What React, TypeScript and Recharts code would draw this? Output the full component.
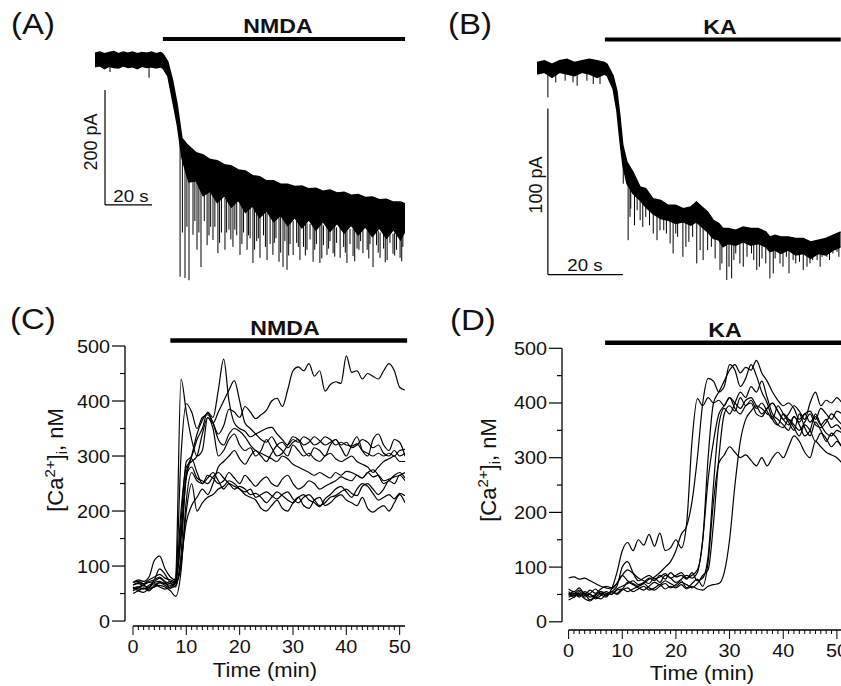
import React from "react";
import { ComposedChart, LineChart, Line, Area, XAxis, YAxis, ReferenceLine } from "recharts";

const FONT = "'Liberation Sans', Arial, Helvetica, sans-serif";
const INK = "#000";

// ---- (A) NMDA-evoked current: time (s), upper / lower edge of the noisy trace (pA)
const aTime = [0, 2, 4, 6, 8, 10, 12, 14, 16, 18, 20, 22, 24, 26, 28, 29, 31, 33, 35, 37, 39, 40, 43, 46, 49, 52, 55, 58, 61, 64, 67, 70, 73, 76, 79, 82, 85, 88, 91, 94, 97, 100, 103, 106, 109, 112, 115, 118, 121, 124, 127, 130, 131.9];
const aHigh = [12, 14, 11, 13, 15, 11, 14, 12, 14, 11, 13, 12, 14, 11, 13, 10, -3, -35, -78, -136, -146, -150, -161, -165, -173, -175, -182, -184, -191, -193, -201, -203, -210, -210, -216, -216, -220, -219, -224, -223, -228, -226, -231, -230, -235, -234, -239, -238, -243, -242, -247, -247, -250];
const aLow = [-12, -10, -15, -11, -13, -14, -10, -13, -12, -15, -11, -13, -12, -14, -12, -15, -28, -70, -113, -170, -200, -212, -210, -236, -228, -248, -236, -256, -244, -265, -254, -274, -262, -281, -270, -288, -274, -292, -278, -296, -281, -298, -284, -301, -287, -304, -290, -307, -292, -310, -295, -313, -298];
// downward spikes: [time, from, to]
const aSpikes = [
  [6.4, -10, -21], [23, -10, -31], [36.2, -130, -377], [37.2, -150, -300], [38.3, -160, -379], [39.1, -170, -290],
  [40, -180, -383], [41.7, -200, -304], [42.5, -200, -280], [43.4, -210, -330], [44.2, -210, -300], [45.1, -220, -360],
  [46.5, -215, -280], [47.7, -225, -322], [48.5, -222, -305], [49.2, -230, -290], [50.2, -230, -313], [51, -228, -290],
  [52.3, -235, -336], [53, -232, -318], [53.8, -238, -300], [55.3, -240, -330], [56, -238, -300], [57, -242, -295],
  [57.8, -240, -312], [58.7, -245, -325], [59.5, -243, -295], [60.3, -248, -305], [61.7, -250, -339], [62.5, -250, -320],
  [63.2, -252, -300], [64.7, -255, -330], [65.3, -253, -305], [66, -256, -310], [67.2, -258, -353], [67.9, -256, -330],
  [68.8, -260, -315], [69.5, -258, -310], [70.2, -262, -344], [71.7, -264, -305], [72.5, -262, -325], [73.2, -265, -348],
  [74.5, -268, -320], [75.7, -270, -339], [76.3, -268, -318], [77, -272, -310], [78.3, -274, -351], [79, -271, -335],
  [80, -275, -360], [80.8, -273, -315], [81.7, -277, -365], [82.4, -275, -340], [83, -278, -320], [84.3, -280, -339],
  [85.8, -280, -318], [86.5, -279, -325], [87.2, -282, -348], [88.7, -283, -325], [89.5, -281, -340], [90.2, -284, -330],
  [91.5, -285, -312], [92.8, -285, -351], [93.5, -283, -330], [94.2, -286, -320], [95.7, -287, -353], [96.5, -285, -345],
  [97.2, -288, -322], [98.7, -288, -339], [99.4, -287, -328], [100, -289, -315], [101.3, -290, -336], [102, -288, -342],
  [102.8, -291, -318], [104.3, -291, -344], [105.8, -292, -325], [106.5, -290, -335], [107.2, -293, -353], [108.5, -294, -320],
  [109.8, -294, -341], [110.5, -292, -350], [111.5, -295, -328], [112.3, -293, -330], [113, -296, -315], [114, -296, -336],
  [115.8, -297, -330], [116.5, -295, -345], [117, -298, -320], [118.3, -299, -360], [119.8, -299, -322], [120.5, -297, -335],
  [121.3, -300, -344], [122.8, -300, -328], [123.5, -298, -352], [124.3, -301, -348], [125.5, -302, -318], [126.8, -302, -337],
  [127.5, -300, -340], [128.3, -303, -330], [129.8, -304, -344], [130.5, -301, -350], [131, -304, -325],
];
const aNmda = [28.9, 131.9]; // application period (s)

// ---- (B) KA-evoked current
const bTime = [0, 2, 4, 6, 8, 10, 12, 14, 16, 18, 18.7, 20.3, 21.3, 22.1, 22.9, 24, 25.6, 27.5, 29, 30.9, 33, 35, 37, 39, 41, 42.5, 44, 45.5, 47, 48.5, 49.6, 51, 53, 55, 57, 59, 61, 62.1, 63.5, 65, 67, 69, 71, 73, 75, 77, 79, 81];
const bHigh = [3, 4, 2, 4, 5, 3, 4, 5, 4, 3, 2, -5, -14, -29, -47, -57, -63, -72, -73, -79, -80, -83, -83, -85, -84, -81, -84, -87, -92, -94, -97, -97, -98, -96, -97, -97, -99, -102, -101, -102, -102, -103, -103, -105, -104, -103, -101, -99];
const bLow = [-4, -3, -6, -3, -4, -5, -3, -4, -6, -4, -5, -13, -26, -44, -59, -70, -76, -80, -84, -88, -91, -92, -94, -93, -95, -93, -96, -99, -103, -104, -108, -106, -107, -105, -107, -106, -108, -111, -110, -112, -110, -113, -112, -115, -112, -113, -110, -108];
const bSpikes = [
  [2.9, -2, -18], [5, -2, -9], [7.5, -2, -8], [9.6, -2, -9], [10.7, -2, -11], [13.3, -2, -8], [15, -2, -10], [16.8, -2, -10],
  [23, -55, -70], [24.3, -62, -104], [24.8, -64, -90], [25, -66, -85], [26, -68, -95], [26.7, -70, -86], [27.5, -72, -92],
  [28.2, -74, -96], [29, -75, -90], [30, -78, -95], [31, -82, -100], [32, -82, -104], [32.8, -84, -98], [33.8, -85, -98],
  [34.5, -86, -100], [35.5, -86, -106], [36.3, -88, -112], [37, -88, -100], [37.5, -89, -102], [38.9, -89, -114],
  [39.7, -89, -108], [40.5, -90, -105], [41.5, -88, -102], [42.6, -88, -118], [43.5, -90, -110], [44.3, -90, -116],
  [45.5, -93, -110], [46.5, -95, -108], [47.5, -98, -115], [48.8, -100, -122], [49.3, -102, -118], [50.6, -104, -128],
  [51.2, -103, -120], [51.9, -103, -127], [52.5, -102, -116], [53, -102, -112], [54.1, -102, -118], [55, -103, -120],
  [56, -102, -114], [57.2, -102, -112], [57.8, -104, -116], [58.6, -103, -122], [59.3, -105, -120], [60, -103, -115],
  [61, -106, -118], [62.1, -107, -127], [63, -109, -124], [63.5, -107, -115], [64.8, -107, -118], [65.6, -109, -120],
  [66.5, -107, -114], [67.2, -110, -124], [68.3, -108, -116], [69, -110, -118], [70, -109, -117], [71, -111, -122],
  [72, -110, -120], [72.8, -111, -118], [73.5, -110, -116], [74.7, -109, -116], [75.5, -110, -120], [76, -108, -114],
  [77.3, -107, -114], [78, -108, -116], [78.9, -106, -112], [80, -105, -111], [80.5, -106, -114],
];
const bKa = [18.1, 81];

// ---- (C) [Ca2+]i during NMDA, nM, one sample per minute
const cTime = [0, 1, 2, 3, 4, 5, 6, 7, 8, 9, 10, 11, 12, 13, 14, 15, 16, 17, 18, 19, 20, 21, 22, 23, 24, 25, 26, 27, 28, 29, 30, 31, 32, 33, 34, 35, 36, 37, 38, 39, 40, 41, 42, 43, 44, 45, 46, 47, 48, 49, 50, 51];
const cCells = [
  [65, 70, 68, 72, 75, 80, 72, 68, 75, 300, 395, 380, 350, 370, 375, 360, 340, 355, 385, 380, 370, 390, 380, 368, 375, 383, 400, 405, 390, 420, 455, 462, 455, 468, 445, 455, 418, 430, 435, 432, 482, 452, 455, 440, 450, 445, 440, 455, 468, 455, 425, 420],
  [60, 62, 58, 65, 70, 72, 68, 72, 70, 180, 290, 300, 330, 350, 380, 370, 420, 476, 400, 360, 350, 345, 335, 340, 345, 350, 352, 340, 330, 320, 330, 325, 335, 330, 320, 325, 335, 330, 320, 325, 320, 318, 322, 310, 305, 300, 305, 300, 305, 300, 310, 312],
  [55, 60, 65, 60, 62, 70, 65, 60, 80, 440, 380, 330, 300, 310, 370, 350, 300, 310, 330, 340, 320, 310, 315, 300, 310, 330, 315, 300, 305, 320, 335, 330, 310, 300, 315, 310, 300, 320, 330, 315, 300, 320, 335, 310, 300, 330, 340, 320, 310, 330, 325, 300],
  [70, 72, 68, 75, 80, 85, 78, 75, 72, 200, 280, 290, 300, 340, 370, 360, 380, 400, 420, 437, 400, 360, 350, 340, 330, 325, 335, 320, 310, 300, 320, 310, 300, 305, 295, 290, 300, 305, 295, 290, 295, 300, 290, 285, 280, 270, 280, 290, 295, 300, 290, 290],
  [62, 58, 60, 55, 65, 70, 68, 65, 70, 150, 260, 300, 340, 365, 378, 360, 330, 320, 340, 350, 345, 335, 320, 310, 305, 300, 295, 290, 300, 295, 285, 280, 275, 270, 265, 270, 265, 260, 270, 265, 272, 270, 265, 260, 270, 275, 265, 250, 255, 265, 270, 260],
  [58, 62, 66, 70, 72, 78, 70, 60, 65, 120, 270, 295, 270, 250, 265, 260, 250, 255, 270, 260, 250, 265, 255, 245, 255, 262, 250, 245, 258, 265, 250, 240, 245, 255, 250, 240, 245, 250, 255, 262, 258, 255, 265, 260, 270, 262, 265, 255, 258, 262, 265, 270],
  [50, 55, 60, 58, 62, 65, 62, 55, 45, 90, 220, 270, 255, 250, 260, 270, 255, 240, 250, 245, 240, 235, 240, 225, 230, 235, 228, 222, 230, 235, 222, 215, 225, 230, 220, 210, 215, 225, 228, 235, 240, 232, 228, 245, 250, 240, 230, 240, 255, 250, 265, 255],
  [60, 55, 52, 60, 68, 62, 58, 62, 68, 100, 200, 250, 200, 215, 225, 230, 240, 245, 255, 250, 240, 230, 225, 220, 205, 200, 210, 220, 205, 200, 215, 225, 210, 205, 220, 225, 210, 215, 225, 230, 220, 215, 210, 225, 205, 198, 205, 210, 200, 215, 230, 215],
  [70, 75, 72, 80, 110, 118, 95, 80, 75, 160, 265, 280, 260, 255, 250, 262, 270, 260, 250, 240, 245, 240, 230, 232, 225, 215, 225, 235, 228, 220, 215, 225, 230, 220, 215, 208, 222, 230, 240, 245, 235, 225, 240, 250, 245, 232, 220, 225, 230, 222, 232, 228],
  [66, 68, 64, 62, 75, 95, 85, 70, 62, 110, 180, 210, 225, 240, 230, 250, 280, 290, 300, 310, 295, 285, 300, 310, 300, 290, 305, 320, 325, 315, 325, 330, 320, 325, 335, 328, 320, 325, 330, 320, 325, 315, 320, 330, 325, 315, 320, 305, 300, 310, 300, 305],
];
const cNmda = [7, 51.4];

// ---- (D) [Ca2+]i during KA, nM
const dTime = [0, 1, 2, 3, 4, 5, 6, 7, 8, 9, 10, 11, 12, 13, 14, 15, 16, 17, 18, 19, 20, 21, 22, 23, 24, 25, 26, 27, 28, 29, 30, 31, 32, 33, 34, 35, 36, 37, 38, 39, 40, 41, 42, 43, 44, 45, 46, 47, 48, 49, 50, 51, 52];
const dCells = [
  [50, 55, 48, 52, 45, 50, 55, 48, 60, 90, 130, 145, 130, 150, 140, 160, 138, 162, 130, 135, 150, 135, 180, 330, 408, 395, 410, 400, 405, 395, 410, 400, 390, 405, 410, 395, 380, 390, 400, 385, 370, 380, 395, 385, 370, 400, 420, 395, 405, 400, 410, 400, 395],
  [60, 55, 62, 50, 58, 52, 60, 65, 62, 70, 85, 75, 70, 65, 70, 78, 82, 90, 100, 110, 130, 160, 175, 220, 300, 400, 445, 440, 420, 430, 470, 460, 430, 445, 470, 450, 420, 400, 370, 360, 380, 370, 355, 340, 360, 350, 330, 345, 335, 320, 330, 320, 310],
  [80, 82, 78, 80, 75, 70, 65, 62, 60, 70, 85, 95, 88, 75, 80, 85, 78, 82, 88, 80, 85, 90, 80, 85, 95, 150, 300, 400, 420, 440, 460, 470, 455, 465, 460, 478, 455, 440, 420, 405, 395, 400, 390, 370, 380, 365, 375, 360, 370, 355, 360, 350, 345],
  [55, 48, 52, 45, 50, 42, 48, 55, 50, 60, 65, 70, 75, 68, 72, 80, 75, 85, 78, 90, 82, 85, 78, 90, 75, 80, 120, 250, 360, 390, 380, 400, 420, 410, 430, 420, 440, 410, 380, 370, 360, 350, 375, 360, 340, 350, 380, 360, 345, 340, 350, 345, 340],
  [45, 50, 58, 52, 40, 48, 55, 52, 50, 58, 60, 72, 68, 62, 58, 65, 72, 68, 75, 70, 65, 72, 68, 62, 70, 85, 95, 180, 300, 380, 395, 385, 410, 395, 405, 390, 400, 385, 370, 395, 380, 365, 350, 380, 355, 340, 365, 350, 330, 345, 335, 320, 330],
  [52, 45, 55, 48, 52, 60, 50, 45, 55, 52, 60, 55, 60, 65, 70, 62, 58, 65, 70, 62, 68, 75, 62, 70, 78, 65, 110, 220, 290, 305, 320, 310, 300, 305, 295, 285, 300, 285, 300, 310, 300, 320, 340, 330, 310, 300, 330, 320, 310, 305, 300, 290, 285],
  [48, 52, 45, 55, 50, 45, 52, 48, 55, 50, 58, 62, 55, 60, 65, 58, 62, 68, 60, 65, 62, 68, 60, 65, 60, 58, 65, 68, 70, 90, 150, 250, 330, 370, 385, 395, 390, 380, 375, 360, 355, 370, 360, 350, 365, 380, 360, 355, 365, 380, 370, 360, 355],
  [40, 45, 50, 42, 38, 45, 42, 50, 55, 65, 100, 110, 90, 80, 75, 70, 80, 72, 85, 80, 72, 78, 85, 80, 90, 150, 260, 330, 380, 395, 410, 390, 380, 395, 400, 380, 375, 390, 400, 385, 370, 360, 375, 365, 380, 385, 370, 390, 380, 370, 385, 380, 375],
];
const dKa = [6.8, 53];

const timeTicks = [0, 1, 2, 3, 4, 5, 6, 7, 8, 9, 10, 11, 12, 13, 14, 15, 16, 17, 18, 19, 20, 21, 22, 23, 24, 25, 26, 27, 28, 29, 30, 31, 32, 33, 34, 35, 36, 37, 38, 39, 40, 41, 42, 43, 44, 45, 46, 47, 48, 49, 50];
const caTicks = [0, 50, 100, 150, 200, 250, 300, 350, 400, 450, 500];

const bandRows = (time: number[], hi: number[], lo: number[]) =>
  time.map((t, i) => ({ t, band: [lo[i], hi[i]] }));

const cellRows = (time: number[], cells: number[][]) =>
  time.map((t, i) => {
    const row: any = { t };
    cells.forEach((c, k) => (row[`cell${k}`] = c[i]));
    return row;
  });

const aData = bandRows(aTime, aHigh, aLow);
const bData = bandRows(bTime, bHigh, bLow);
const cData = cellRows(cTime, cCells);
const dData = cellRows(dTime, dCells);

// horizontal text, stretched a little like the original figure
const T = ({ x, y, size, anchor = "start", bold = false, children }: any) => (
  <text
    transform={`translate(${x} ${y}) scale(1.1 1)`}
    textAnchor={anchor}
    fontSize={size}
    fontWeight={bold ? 700 : 400}
    fontFamily={FONT}
    fill="#111"
  >
    {children}
  </text>
);

const XTick = ({ x, y, payload }: any) => {
  const major = payload.value % 10 === 0;
  return (
    <g>
      <line x1={x} y1={y} x2={x} y2={y + (major ? 9 : 4)} stroke={INK} strokeWidth={1} />
      {major && (
        <T x={x} y={y + 26.5} size={18} anchor="middle">
          {payload.value}
        </T>
      )}
    </g>
  );
};

const YTick = ({ x, y, payload }: any) => {
  const major = payload.value % 100 === 0;
  const len = major ? 13 : 5;
  return (
    <g>
      <line x1={x - len} y1={y} x2={x} y2={y} stroke={INK} strokeWidth={1.2} />
      {major && (
        <T x={x - len - 2} y={y + 6.5} size={18} anchor="end">
          {payload.value}
        </T>
      )}
    </g>
  );
};

const seg = (x1: number, y1: number, x2: number, y2: number) => [
  { x: x1, y: y1 },
  { x: x2, y: y2 },
];

function TracePanel({ data, spikes, drug, drugY, scaleT, scaleTop, scalePa, xDomain, yDomain, margin, width }: any) {
  const scaleBottom = scaleTop - scalePa;
  return (
    <ComposedChart width={width} height={290} data={data} margin={margin}>
      <XAxis type="number" dataKey="t" domain={xDomain} hide allowDataOverflow />
      <YAxis type="number" domain={yDomain} hide allowDataOverflow />
      <Area
        type="linear"
        dataKey="band"
        stroke={INK}
        strokeWidth={1.4}
        fill={INK}
        fillOpacity={1}
        dot={false}
        activeDot={false}
        isAnimationActive={false}
      />
      {spikes.map(([t, from, to]: number[], i: number) => (
        <ReferenceLine key={i} segment={seg(t, from, t, to)} stroke={INK} strokeWidth={1} ifOverflow="visible" />
      ))}
      <ReferenceLine segment={seg(scaleT, scaleTop, scaleT, scaleBottom)} stroke={INK} strokeWidth={1.2} ifOverflow="visible" />
      <ReferenceLine segment={seg(scaleT, scaleBottom, scaleT + 20, scaleBottom)} stroke={INK} strokeWidth={1.2} ifOverflow="visible" />
      <ReferenceLine segment={seg(drug[0], drugY, drug[1], drugY)} stroke={INK} strokeWidth={4} ifOverflow="visible" />
    </ComposedChart>
  );
}

function CaPanel({ data, count, drug, xDomain, yDomain, width, right, top, yAxisW, xAxisH }: any) {
  const axisY = yDomain[0];
  return (
    <LineChart width={width} height={386} data={data} margin={{ top, right, bottom: 0, left: 0 }}>
      <XAxis
        type="number"
        dataKey="t"
        domain={xDomain}
        ticks={timeTicks}
        interval={0}
        tick={<XTick />}
        tickLine={false}
        axisLine={false}
        tickSize={0}
        tickMargin={0}
        height={xAxisH}
        allowDataOverflow
      />
      <YAxis
        type="number"
        domain={yDomain}
        ticks={caTicks}
        interval={0}
        tick={<YTick />}
        tickLine={false}
        axisLine={false}
        tickSize={0}
        tickMargin={0}
        width={yAxisW}
        allowDataOverflow
      />
      <ReferenceLine segment={seg(xDomain[0], 0, xDomain[0], 500)} stroke={INK} strokeWidth={1.3} ifOverflow="visible" />
      <ReferenceLine segment={seg(0, axisY, xDomain[1], axisY)} stroke={INK} strokeWidth={1.3} ifOverflow="visible" />
      <ReferenceLine segment={seg(drug[0], 510, drug[1], 510)} stroke={INK} strokeWidth={4.5} ifOverflow="visible" />
      {Array.from({ length: count }).map((_, k) => (
        <Line
          key={k}
          type="monotone"
          dataKey={`cell${k}`}
          stroke={INK}
          strokeWidth={1.2}
          dot={false}
          activeDot={false}
          isAnimationActive={false}
        />
      ))}
    </LineChart>
  );
}

const CaLabel = ({ x, y }: any) => (
  <text transform={`translate(${x} ${y}) rotate(-90)`} textAnchor="middle" fontSize={22} fontFamily={FONT} fill="#111">
    [Ca<tspan dy={-8} fontSize={15}>2+</tspan>
    <tspan dy={8}>]</tspan>
    <tspan dy={4} fontSize={15}>i</tspan>
    <tspan dy={-4}>, nM</tspan>
  </text>
);

const Rot = ({ x, y, size, children }: any) => (
  <text transform={`translate(${x} ${y}) rotate(-90)`} textAnchor="middle" fontSize={size} fontFamily={FONT} fill="#111">
    {children}
  </text>
);

export default function App() {
  return (
    <div style={{ position: "absolute", left: 0, top: 0, width: 841, height: 686, overflow: "hidden", background: "#fff" }}>
      <div style={{ position: "absolute", left: 0, top: 0 }}>
        <TracePanel
          data={aData}
          spikes={aSpikes}
          drug={aNmda}
          drugY={36.5}
          scaleT={4.26}
          scaleTop={-52}
          scalePa={200}
          xDomain={[0, 131.9]}
          yDomain={[-400, 60]}
          margin={{ top: 25.5, right: 15, bottom: 0, left: 95 }}
          width={420}
        />
      </div>
      <div style={{ position: "absolute", left: 420, top: 0 }}>
        <TracePanel
          data={bData}
          spikes={bSpikes}
          drug={bKa}
          drugY={16.8}
          scaleT={2.9}
          scaleTop={-24.7}
          scalePa={100}
          xDomain={[0, 81]}
          yDomain={[-134, 40]}
          margin={{ top: 1, right: 0.25, bottom: 0, left: 117 }}
          width={421}
        />
      </div>
      <div style={{ position: "absolute", left: 0, top: 300 }}>
        <CaPanel data={cData} count={cCells.length} drug={cNmda} xDomain={[-1.5, 51]} yDomain={[-9, 500]} width={420} right={15} top={46} yAxisW={125} xAxisH={60} />
      </div>
      <div style={{ position: "absolute", left: 420, top: 300 }}>
        <CaPanel data={dData} count={dCells.length} drug={dKa} xDomain={[-1.23, 53]} yDomain={[-15, 500]} width={433} right={0} top={48.3} yAxisW={142} xAxisH={56} />
      </div>
      <svg width={841} height={686} style={{ position: "absolute", left: 0, top: 0, pointerEvents: "none" }}>
        <T x={11} y={34} size={30}>(A)</T>
        <T x={448} y={34} size={30}>(B)</T>
        <T x={10} y={329} size={30}>(C)</T>
        <T x={450} y={330} size={30}>(D)</T>
        <T x={278} y={33} size={21} anchor="middle" bold>NMDA</T>
        <T x={720} y={34} size={21} anchor="middle" bold>KA</T>
        <T x={285} y={335} size={21} anchor="middle" bold>NMDA</T>
        <T x={725} y={337} size={21} anchor="middle" bold>KA</T>
        <Rot x={97} y={142} size={18}>200 pA</Rot>
        <T x={131} y={202} size={17} anchor="middle">20 s</T>
        <Rot x={542} y={185} size={18}>100 pA</Rot>
        <T x={585} y={271} size={17} anchor="middle">20 s</T>
        <CaLabel x={63} y={460} />
        <CaLabel x={496} y={470} />
        <T x={265} y={677} size={20} anchor="middle">Time (min)</T>
        <T x={702} y={680} size={20} anchor="middle">Time (min)</T>
      </svg>
    </div>
  );
}
